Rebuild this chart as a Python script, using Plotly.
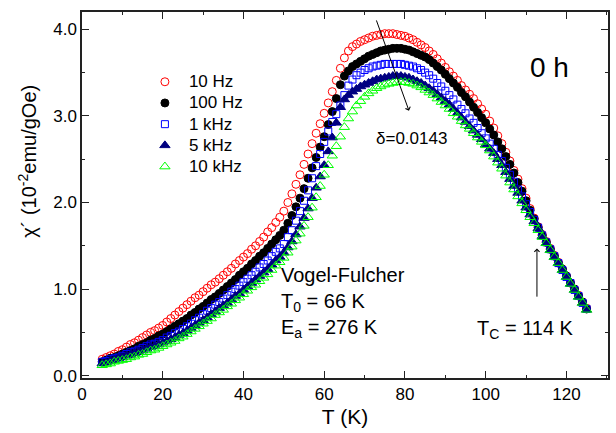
import plotly.graph_objects as go

# Temperature grid (K), one reading per kelvin from 5 K to 125 K
T = list(range(5, 126))

chi_10Hz = [0.19, 0.21, 0.23, 0.25, 0.28, 0.30, 0.33, 0.36, 0.38, 0.41,
            0.44, 0.47, 0.50, 0.52, 0.55, 0.58, 0.62, 0.66, 0.70, 0.74,
            0.78, 0.82, 0.86, 0.90, 0.93, 0.97, 1.01, 1.05, 1.08, 1.12,
            1.16, 1.20, 1.24, 1.29, 1.33, 1.37, 1.41, 1.46, 1.50, 1.55,
            1.60, 1.66, 1.71, 1.77, 1.83, 1.90, 2.00, 2.10, 2.21, 2.32,
            2.44, 2.56, 2.68, 2.80, 2.91, 3.03, 3.15, 3.28, 3.41, 3.55,
            3.67, 3.75, 3.80, 3.83, 3.86, 3.88, 3.90, 3.92, 3.93, 3.94,
            3.95, 3.95, 3.95, 3.94, 3.93, 3.92, 3.90, 3.88, 3.85, 3.82,
            3.79, 3.75, 3.71, 3.66, 3.61, 3.56, 3.51, 3.46, 3.41, 3.35,
            3.30, 3.25, 3.20, 3.14, 3.08, 3.02, 2.94, 2.86, 2.77, 2.68,
            2.58, 2.48, 2.37, 2.27, 2.16, 2.05, 1.93, 1.82, 1.72, 1.63,
            1.55, 1.47, 1.39, 1.31, 1.23, 1.15, 1.07, 1.00, 0.93, 0.85,
            0.78]

chi_100Hz = [0.16, 0.18, 0.20, 0.21, 0.23, 0.25, 0.27, 0.29, 0.31, 0.34,
             0.36, 0.38, 0.41, 0.43, 0.46, 0.48, 0.51, 0.54, 0.57, 0.60,
             0.63, 0.66, 0.70, 0.73, 0.77, 0.80, 0.84, 0.88, 0.91, 0.95,
             0.99, 1.03, 1.07, 1.11, 1.16, 1.20, 1.24, 1.29, 1.33, 1.38,
             1.42, 1.47, 1.52, 1.57, 1.62, 1.68, 1.76, 1.85, 1.95, 2.05,
             2.16, 2.28, 2.40, 2.52, 2.64, 2.76, 2.90, 3.05, 3.20, 3.36,
             3.46, 3.52, 3.57, 3.60, 3.63, 3.66, 3.69, 3.71, 3.73, 3.75,
             3.76, 3.77, 3.78, 3.78, 3.78, 3.77, 3.76, 3.74, 3.72, 3.70,
             3.68, 3.65, 3.61, 3.57, 3.53, 3.48, 3.43, 3.38, 3.33, 3.27,
             3.22, 3.16, 3.10, 3.04, 2.98, 2.92, 2.85, 2.78, 2.70, 2.62,
             2.53, 2.44, 2.34, 2.23, 2.13, 2.02, 1.91, 1.81, 1.71, 1.62,
             1.54, 1.46, 1.38, 1.30, 1.23, 1.15, 1.07, 1.00, 0.92, 0.85,
             0.77]

chi_1kHz = [0.16, 0.17, 0.19, 0.20, 0.21, 0.23, 0.25, 0.27, 0.28, 0.30,
            0.32, 0.34, 0.36, 0.37, 0.39, 0.41, 0.44, 0.46, 0.49, 0.51,
            0.54, 0.57, 0.60, 0.64, 0.67, 0.71, 0.75, 0.78, 0.82, 0.85,
            0.89, 0.93, 0.97, 1.00, 1.04, 1.08, 1.12, 1.16, 1.20, 1.25,
            1.29, 1.33, 1.38, 1.43, 1.47, 1.52, 1.60, 1.68, 1.79, 1.90,
            2.02, 2.14, 2.28, 2.42, 2.56, 2.70, 2.82, 2.93, 3.02, 3.12,
            3.24, 3.35, 3.42, 3.47, 3.50, 3.53, 3.55, 3.57, 3.58, 3.59,
            3.60, 3.60, 3.60, 3.60, 3.60, 3.59, 3.58, 3.57, 3.55, 3.53,
            3.50, 3.47, 3.43, 3.38, 3.34, 3.29, 3.24, 3.19, 3.13, 3.08,
            3.03, 2.97, 2.92, 2.86, 2.80, 2.74, 2.68, 2.62, 2.55, 2.48,
            2.40, 2.32, 2.24, 2.15, 2.07, 1.98, 1.89, 1.80, 1.71, 1.62,
            1.54, 1.46, 1.38, 1.30, 1.22, 1.14, 1.07, 0.99, 0.92, 0.84,
            0.77]

chi_5kHz = [0.14, 0.15, 0.17, 0.18, 0.20, 0.21, 0.23, 0.24, 0.26, 0.27,
            0.29, 0.31, 0.33, 0.34, 0.36, 0.38, 0.40, 0.42, 0.44, 0.47,
            0.49, 0.52, 0.55, 0.58, 0.61, 0.64, 0.67, 0.71, 0.74, 0.78,
            0.81, 0.84, 0.88, 0.92, 0.95, 0.99, 1.03, 1.07, 1.11, 1.15,
            1.19, 1.23, 1.28, 1.33, 1.37, 1.42, 1.48, 1.55, 1.63, 1.72,
            1.82, 1.93, 2.05, 2.17, 2.30, 2.43, 2.59, 2.75, 2.92, 3.10,
            3.19, 3.24, 3.28, 3.31, 3.34, 3.36, 3.38, 3.40, 3.42, 3.43,
            3.44, 3.45, 3.46, 3.46, 3.46, 3.45, 3.44, 3.42, 3.40, 3.38,
            3.35, 3.32, 3.29, 3.25, 3.21, 3.17, 3.13, 3.08, 3.03, 2.98,
            2.93, 2.88, 2.83, 2.78, 2.73, 2.67, 2.62, 2.57, 2.50, 2.43,
            2.35, 2.27, 2.19, 2.11, 2.02, 1.94, 1.86, 1.78, 1.70, 1.61,
            1.53, 1.45, 1.37, 1.30, 1.22, 1.14, 1.06, 0.99, 0.91, 0.84,
            0.76]

chi_10kHz = [0.12, 0.13, 0.14, 0.16, 0.17, 0.18, 0.19, 0.21, 0.22, 0.24,
             0.25, 0.27, 0.29, 0.30, 0.32, 0.34, 0.36, 0.38, 0.40, 0.43,
             0.45, 0.48, 0.51, 0.54, 0.57, 0.60, 0.63, 0.66, 0.70, 0.73,
             0.76, 0.80, 0.83, 0.87, 0.90, 0.94, 0.98, 1.02, 1.05, 1.09,
             1.13, 1.17, 1.22, 1.27, 1.31, 1.36, 1.42, 1.49, 1.56, 1.64,
             1.73, 1.83, 1.94, 2.06, 2.19, 2.32, 2.43, 2.54, 2.65, 2.76,
             2.87, 2.97, 3.05, 3.12, 3.17, 3.22, 3.26, 3.29, 3.32, 3.34,
             3.36, 3.37, 3.38, 3.39, 3.39, 3.39, 3.38, 3.37, 3.35, 3.33,
             3.30, 3.27, 3.24, 3.20, 3.16, 3.12, 3.08, 3.03, 2.99, 2.94,
             2.89, 2.85, 2.80, 2.75, 2.70, 2.66, 2.60, 2.53, 2.46, 2.39,
             2.31, 2.23, 2.15, 2.07, 1.99, 1.91, 1.83, 1.76, 1.68, 1.60,
             1.53, 1.45, 1.37, 1.30, 1.22, 1.14, 1.06, 0.99, 0.91, 0.84,
             0.76]

series_names = ["10 Hz", "100 Hz", "1 kHz", "5 kHz", "10 kHz"]
series_values = [chi_10Hz, chi_100Hz, chi_1kHz, chi_5kHz, chi_10kHz]
x_ticks = [0, 20, 40, 60, 80, 100, 120]
y_ticks = [0.0, 1.0, 2.0, 3.0, 4.0]

styles = [
    dict(symbol="circle-open", color="#FF0000", size=8),
    dict(symbol="circle", color="#000000", size=8),
    dict(symbol="square-open", color="#0000FF", size=7),
    dict(symbol="triangle-up", color="#000080", size=9),
    dict(symbol="triangle-up-open", color="#00FF00", size=9),
]

FONT = "Liberation Sans, Arial, Helvetica, sans-serif"
AX = "#222222"

fig = go.Figure()
for name, vals, st in zip(series_names, series_values, styles):
    assert len(vals) == len(T)
    fig.add_trace(go.Scatter(
        x=T, y=vals, mode="markers",
        name=f'<span style="font-size:17px">{name}</span>',
        marker=dict(symbol=st["symbol"], size=st["size"], color=st["color"],
                    line=dict(color=st["color"], width=1)),
    ))

fig.update_layout(
    width=616, height=433,
    margin=dict(l=82, r=6, t=12, b=55),
    paper_bgcolor="white", plot_bgcolor="white",
    font=dict(family=FONT, size=17, color="black"),
    showlegend=True,
    legend=dict(x=0.112, y=0.852, xanchor="left", yanchor="top",
                bgcolor="rgba(0,0,0,0)", borderwidth=0,
                font=dict(family=FONT, size=14, color="black"),
                itemwidth=38, tracegroupgap=0),
)

fig.update_xaxes(
    range=[0, 130.3], tickmode="array", tickvals=x_ticks,
    ticks="inside", ticklen=7, tickwidth=1, tickcolor=AX,
    showline=True, linecolor=AX, linewidth=1.5, mirror="ticks",
    showgrid=False, zeroline=False,
    minor=dict(ticks="inside", dtick=10, tick0=0, ticklen=3.5, tickcolor=AX, showgrid=False),
    tickfont=dict(size=17),
    title=dict(text="T (K)", font=dict(size=21), standoff=6),
)
fig.update_yaxes(
    range=[-0.027, 4.2], tickmode="array", tickvals=y_ticks,
    ticktext=[f"{v:.1f}" for v in y_ticks],
    ticks="inside", ticklen=7, tickwidth=1, tickcolor=AX,
    showline=True, linecolor=AX, linewidth=1.5, mirror="ticks",
    showgrid=False, zeroline=False,
    minor=dict(ticks="inside", dtick=0.5, tick0=0, ticklen=3.5, tickcolor=AX, showgrid=False),
    tickfont=dict(size=17),
)

annotations = [
    # y-axis title
    dict(xref="paper", yref="paper", x=-0.104, y=0.5915, xanchor="center", yanchor="middle",
         text="χ´ (10<sup>-2</sup>emu/gOe)", textangle=-90, showarrow=False,
         font=dict(family=FONT, size=20, color="black")),
    # frequency-shift arrow
    dict(xref="x", yref="y", x=81.0, y=3.06, axref="x", ayref="y", ax=72.8, ay=4.12,
         text="", showarrow=True, arrowhead=4, arrowsize=1, arrowwidth=1, arrowcolor="black"),
    dict(xref="x", yref="y", x=81.7, y=2.74, text="δ=0.0143", showarrow=False,
         font=dict(family=FONT, size=17, color="black")),
    dict(xref="x", yref="y", x=115.8, y=3.56, text="0 h", showarrow=False,
         font=dict(family=FONT, size=28, color="black")),
    dict(xref="x", yref="y", x=48.9, y=0.845, xanchor="left", yanchor="middle", align="left",
         text="Vogel-Fulcher<br>T<sub>0</sub> = 66 K<br>E<sub>a</sub> = 276 K", showarrow=False,
         font=dict(family=FONT, size=20, color="black")),
    dict(xref="x", yref="y", x=97.4, y=0.535, xanchor="left", yanchor="middle",
         text="T<sub>C</sub> = 114 K", showarrow=False,
         font=dict(family=FONT, size=20, color="black")),
    dict(xref="x", yref="y", x=112.7, y=1.47, axref="x", ayref="y", ax=112.7, ay=0.895,
         text="", showarrow=True, arrowhead=4, arrowsize=1, arrowwidth=1, arrowcolor="black"),
]
fig.update_layout(annotations=annotations)

fig.write_html("out.html")
